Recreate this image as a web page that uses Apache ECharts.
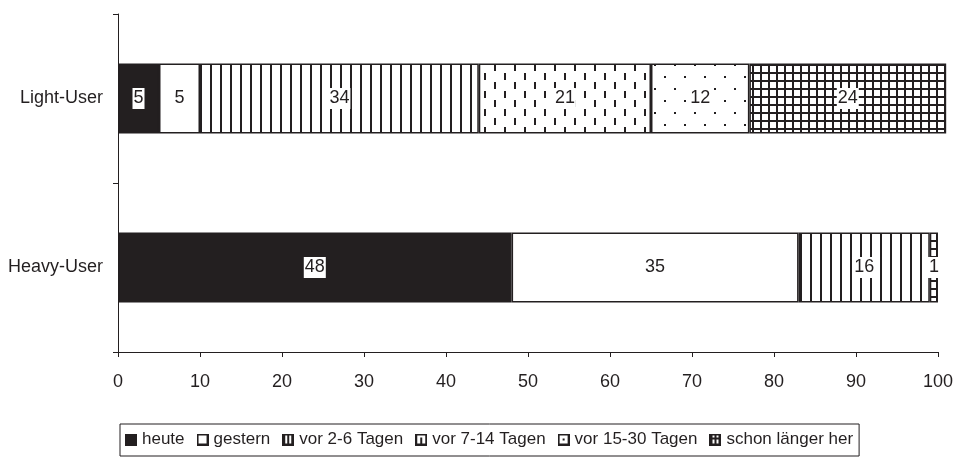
<!DOCTYPE html>
<html><head><meta charset="utf-8">
<script src="https://cdn.jsdelivr.net/npm/echarts@6/dist/echarts.min.js"></script>
<style>html,body{margin:0;padding:0;background:#fff}#c{width:956px;height:457px}</style>
</head><body><div id="c"></div>
<script>
const categories = ['Heavy-User', 'Light-User'];
const seriesNames = ['heute', 'gestern', 'vor 2-6 Tagen', 'vor 7-14 Tagen', 'vor 15-30 Tagen', 'schon länger her'];
const heute = [48, 5];
const gestern = [35, 5];
const vor2bis6 = [16, 34];
const vor7bis14 = [null, 21];
const vor15bis30 = [null, 12];
const laenger = [1, 24];
const xTicks = [0, 10, 20, 30, 40, 50, 60, 70, 80, 90, 100];

const INK = '#231f20';
function canvasOf(w, h, draw) {
  const c = document.createElement('canvas');
  c.width = w; c.height = h;
  const g = c.getContext('2d');
  g.fillStyle = '#fff'; g.fillRect(0, 0, w, h);
  g.fillStyle = INK; draw(g);
  return c;
}
function pat(w, h, draw) { return { image: canvasOf(w, h, draw), repeat: 'repeat' }; }
const fills = [
  INK,
  '#ffffff',
  pat(10, 10, g => { g.fillRect(0, 0, 2, 10); }),
  pat(20, 18, g => { g.fillRect(4, 1, 2, 7); g.fillRect(14, 10, 2, 7); }),
  pat(20, 24, g => { g.fillRect(4, 4, 2, 2); g.fillRect(14, 16, 2, 2); }),
  pat(8, 8, g => { g.fillRect(0, 0, 2, 8); g.fillRect(0, 0, 8, 2); })
];
function frame(g) { g.fillRect(0, 0, 12, 12); g.fillStyle = '#fff'; g.fillRect(2, 2, 8, 8); g.fillStyle = INK; }
const iconCanvases = [
  canvasOf(12, 12, g => g.fillRect(0, 0, 12, 12)),
  canvasOf(12, 12, g => frame(g)),
  canvasOf(12, 12, g => { g.fillRect(0, 0, 12, 12); g.fillStyle = '#fff'; g.fillRect(3, 2, 2, 8); g.fillRect(7, 2, 2, 8); }),
  canvasOf(12, 12, g => { frame(g); g.fillRect(5, 4, 2, 6); }),
  canvasOf(12, 12, g => { frame(g); g.fillRect(5, 5, 2, 2); }),
  canvasOf(12, 12, g => { g.fillRect(0, 0, 12, 12); g.fillStyle = '#fff'; g.fillRect(3, 2, 2, 2); g.fillRect(7, 2, 2, 2); g.fillRect(3, 6, 2, 4); g.fillRect(7, 6, 2, 4); })
];
const values = [heute, gestern, vor2bis6, vor7bis14, vor15bis30, laenger];
const FONT = 'Liberation Sans, Arial, sans-serif';

const chart = echarts.init(document.getElementById('c'), null, { renderer: 'canvas' });
chart.setOption({
  animation: false,
  backgroundColor: '#fff',
  grid: { left: 118, right: 17, top: 14, bottom: 105, containLabel: false },
  xAxis: {
    type: 'value', min: 0, max: 100, interval: 10,
    axisLine: { show: true, lineStyle: { color: INK, width: 1 } },
    axisTick: { show: true, length: 5, lineStyle: { color: INK } },
    axisLabel: { color: INK, fontSize: 18, fontFamily: FONT, margin: 21,
      formatter: v => xTicks.includes(v) ? String(v) : '' },
    splitLine: { show: false }
  },
  yAxis: {
    type: 'category', data: categories,
    axisLine: { show: true, lineStyle: { color: INK, width: 1 } },
    axisTick: { show: true, length: 5, lineStyle: { color: INK } },
    axisLabel: { color: INK, fontSize: 18, fontFamily: FONT, margin: 15 }
  },
  legend: {
    top: 424, left: 120,
    data: seriesNames.map((n, i) => ({ name: n, icon: 'image://' + iconCanvases[i].toDataURL() })),
    itemWidth: 12, itemHeight: 12, itemGap: 12,
    padding: [7, 6, 8, 5],
    borderColor: INK, borderWidth: 1,
    textStyle: { color: INK, fontSize: 17, fontFamily: FONT, padding: [0, 0, 0, 0] },
    selectedMode: false
  },
  series: seriesNames.map((n, i) => ({
    name: n, type: 'bar', stack: 'total', barWidth: 70, clip: false,
    data: values[i],
    itemStyle: { color: fills[i], borderColor: INK, borderWidth: 1.5 },
    label: {
      show: true, position: 'inside', color: INK, fontSize: 18, fontFamily: FONT,
      backgroundColor: '#fff', padding: [2, 1, 1, 1],
      formatter: p => p.value == null ? '' : String(p.value)
    }
  }))
});
</script></body></html>
